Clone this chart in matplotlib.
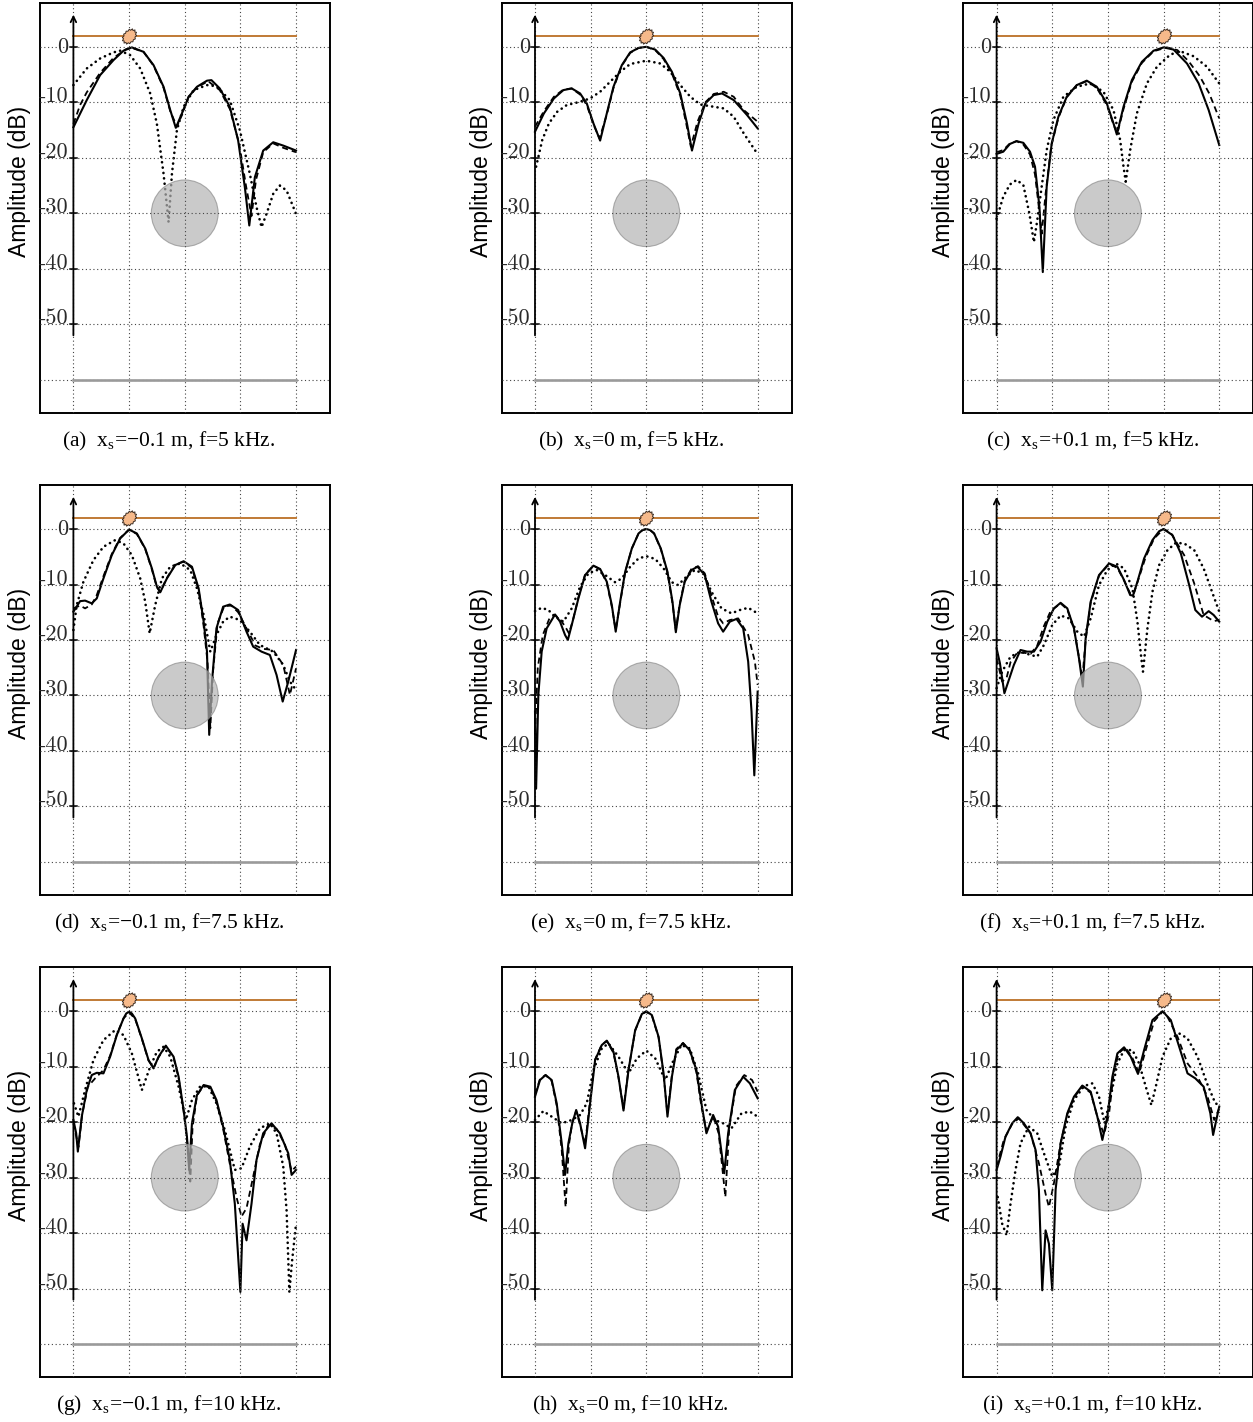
import numpy as np
import matplotlib
matplotlib.use("Agg")
from matplotlib import pyplot as plt
from matplotlib.patches import Ellipse
from matplotlib.path import Path

# Captions (x in cm, amplitude in dB)
captions = ["(a)  x$_\\mathrm{s}$=\u22120.1 m, f=5 kHz.", "(b)  x$_\\mathrm{s}$=0 m, f=5 kHz.",
            "(c)  x$_\\mathrm{s}$=+0.1 m, f=5 kHz.", "(d)  x$_\\mathrm{s}$=\u22120.1 m, f=7.5 kHz.",
            "(e)  x$_\\mathrm{s}$=0 m, f=7.5 kHz.", "(f)  x$_\\mathrm{s}$=+0.1 m, f=7.5 kHz.",
            "(g)  x$_\\mathrm{s}$=\u22120.1 m, f=10 kHz.", "(h)  x$_\\mathrm{s}$=0 m, f=10 kHz.",
            "(i)  x$_\\mathrm{s}$=+0.1 m, f=10 kHz."]
source_x = [-10, 0, 10, -10, 0, 10, -10, 0, 10]
y_ticks = [0, -10, -20, -30, -40, -50]
grid_x = [-20, -10, 0, 10, 20]
grid_y = [0, -10, -20, -30, -40, -50, -60]
source_level = 2
array_level = -60
circle_center = (0, -30)
circle_radius = 6

# ---- panel (a) ----
a_solid_x = [-20, -17.6, -15.2, -12.8, -11, -9.5, -7.4, -5.6, -3.8, -2.6, -1.6, -0.5, 0.7, 2.2, 4.0, 4.8, 6.3, 8.1, 9.6, 10.8, 11.6, 12.6, 14.1, 15.9, 17.7, 20]
a_solid_y = [-14.5, -9.6, -5.1, -2.4, -0.7, -0.1, -0.9, -3.3, -7.2, -11.4, -14.6, -12.0, -9.0, -7.2, -6.1, -6.0, -7.5, -10.8, -16.9, -25.3, -32.2, -23.5, -18.7, -17.2, -17.8, -18.7]
a_dash_x = [-20, -18.8, -17.6, -15.2, -12.8, -10.5, -9.5, -7.4, -5.6, -3.8, -2.6, -1.4, -0.3, 0.7, 2.2, 4.2, 6.3, 8.1, 9.8, 11.0, 12.0, 12.8, 14.1, 15.9, 17.7, 20]
a_dash_y = [-13.9, -10.5, -8.2, -4.7, -2.0, -0.4, -0.2, -0.9, -3.4, -7.4, -11.6, -14.4, -11.8, -9.0, -7.3, -6.2, -7.8, -11.2, -17.5, -25.0, -30.5, -24.0, -19.0, -17.4, -18.2, -19.0]
a_dot_x = [-20, -17.6, -15.2, -12.8, -11.6, -9.8, -8.0, -6.2, -5.0, -3.8, -2.9, -2.3, -1.4, -0.2, 1.6, 4.0, 5.7, 8.1, 9.9, 11.7, 12.9, 13.8, 14.7, 15.9, 17.1, 18.3, 20]
a_dot_y = [-6.9, -3.9, -2.1, -1.0, -0.7, -1.5, -3.9, -8.4, -13.9, -22.9, -31.6, -22.9, -15.0, -10.8, -7.8, -6.9, -7.1, -9.6, -15.0, -22.9, -28.9, -32.5, -30.1, -26.5, -25.0, -25.9, -30.1]

# ---- panel (b) ----
b_solid_x = [-20, -18.4, -16.6, -14.9, -13.4, -11.9, -10.7, -9.5, -8.3, -7.1, -5.9, -4.4, -2.9, -1.4, 0, 1.6, 3.1, 4.6, 6.1, 7.3, 8.2, 9.4, 10.6, 12.1, 13.6, 15.7, 18.1, 20]
b_solid_y = [-15.3, -12.0, -9.3, -7.8, -7.5, -8.4, -10.2, -13.8, -16.9, -12.0, -7.2, -3.3, -1.0, -0.2, 0.0, -0.5, -2.0, -4.5, -8.4, -13.8, -18.7, -13.8, -10.2, -8.7, -8.4, -9.6, -12.3, -14.7]
b_dash_x = [-20, -18.4, -16.6, -14.9, -13.4, -11.9, -10.7, -9.5, -8.4, -7.1, -5.9, -4.4, -2.9, -1.4, 0, 1.6, 3.1, 4.6, 6.1, 7.2, 8.0, 9.2, 10.6, 12.1, 13.9, 15.7, 17.5, 20]
b_dash_y = [-14.4, -11.6, -9.0, -7.7, -7.5, -8.6, -10.5, -14.0, -16.5, -12.2, -7.4, -3.4, -1.1, -0.2, 0.0, -0.6, -2.2, -4.8, -8.8, -14.0, -18.0, -13.5, -10.0, -8.5, -8.1, -9.0, -11.4, -13.5]
b_dot_x = [-19.8, -18.7, -17.5, -16.0, -14.3, -11.9, -10.1, -8.3, -6.5, -4.7, -2.9, 0, 2.5, 4.3, 6.1, 7.9, 9.7, 12.1, 13.9, 15.7, 17.5, 19.9]
b_dot_y = [-21.6, -16.8, -13.8, -11.7, -10.5, -9.9, -9.3, -8.1, -6.3, -4.5, -3.1, -2.5, -3.0, -4.5, -6.9, -9.0, -10.4, -10.8, -11.1, -12.6, -15.6, -19.2]

# ---- panel (c) ----
c_solid_x = [-20, -18.8, -17.6, -16.4, -15.2, -14.0, -13.1, -12.3, -11.7, -11.0, -10.1, -8.9, -7.4, -5.6, -3.8, -2.0, -0.2, 1.0, 1.6, 2.8, 4.3, 6.1, 8.2, 10.0, 11.8, 14.2, 16.3, 18.1, 20]
c_solid_y = [-19.3, -18.9, -17.5, -17.0, -17.3, -18.9, -21.6, -28.9, -40.6, -25.2, -17.4, -12.6, -9.0, -6.9, -6.1, -7.2, -10.2, -13.8, -15.8, -10.8, -6.0, -2.7, -0.7, -0.1, -0.5, -3.0, -6.6, -11.4, -17.7]
c_dash_x = [-20, -18.8, -17.6, -16.4, -15.2, -14.0, -13.1, -12.4, -11.9, -11.2, -10.2, -8.9, -7.4, -5.6, -3.8, -2.0, -0.2, 1.0, 1.7, 2.8, 4.3, 6.1, 8.2, 10.6, 12.5, 14.5, 16.5, 18.2, 20]
c_dash_y = [-19.0, -18.6, -17.4, -17.0, -17.6, -19.4, -23.0, -29.0, -33.7, -26.5, -18.0, -12.8, -9.1, -6.9, -6.2, -7.4, -10.5, -14.0, -15.6, -11.2, -6.3, -2.9, -0.8, -0.1, -0.6, -2.6, -5.3, -8.4, -12.9]
c_dot_x = [-20, -18.8, -17.6, -16.4, -15.2, -14.1, -13.3, -12.7, -11.9, -11.0, -9.8, -8.0, -5.6, -3.2, -0.8, 1.0, 2.2, 2.8, 3.2, 4.0, 5.2, 7.0, 8.8, 11.2, 13.0, 15.4, 17.8, 20]
c_dot_y = [-31.0, -27.0, -24.8, -24.0, -24.9, -30.1, -35.2, -31.3, -25.2, -18.6, -13.2, -9.0, -7.2, -6.6, -8.1, -11.4, -16.8, -21.6, -24.3, -18.6, -12.0, -6.6, -3.6, -1.4, -0.8, -1.7, -3.6, -6.6]

# ---- panel (d) ----
d_solid_x = [-20, -18.8, -17.9, -16.7, -15.8, -14.6, -13.1, -11.6, -10.0, -8.6, -7.1, -5.9, -5.0, -4.4, -3.2, -1.7, -0.2, 1.3, 2.5, 3.4, 4.0, 4.4, 4.9, 5.7, 6.9, 8.1, 9.6, 11.1, 12.3, 13.8, 15.3, 16.5, 17.6, 18.6, 20]
d_solid_y = [-14.9, -13.0, -12.9, -13.4, -12.5, -8.9, -4.7, -1.7, -0.1, -0.8, -3.5, -7.1, -10.4, -11.4, -8.9, -6.5, -5.8, -6.8, -10.7, -16.7, -22.1, -37.1, -27.5, -17.9, -14.0, -13.6, -14.6, -18.5, -21.2, -22.1, -22.7, -26.3, -31.1, -27.5, -21.8]
d_dash_x = [-20, -18.8, -17.9, -16.7, -15.8, -14.6, -13.1, -11.6, -10.0, -8.6, -7.1, -5.9, -5.0, -4.4, -3.2, -1.7, -0.2, 1.3, 2.5, 3.4, 4.1, 4.6, 5.1, 5.9, 7.1, 8.4, 9.6, 11.1, 12.7, 14.1, 15.9, 17.7, 18.9, 20]
d_dash_y = [-14.3, -13.8, -14.3, -13.6, -11.9, -8.5, -4.5, -1.6, -0.1, -0.9, -3.6, -7.3, -10.5, -11.3, -8.8, -6.4, -5.9, -7.0, -11.0, -17.5, -24.0, -35.9, -25.5, -17.0, -13.9, -13.8, -15.0, -17.9, -21.0, -21.6, -21.8, -24.5, -29.9, -25.1]
d_dot_x = [-20, -19.4, -18.2, -16.4, -14.6, -12.5, -11.0, -9.5, -8.0, -7.1, -6.3, -5.3, -4.1, -2.6, -0.8, 1.0, 2.2, 3.4, 4.6, 5.7, 6.9, 8.1, 9.9, 11.7, 13.5, 15.9, 17.7, 18.9, 20]
d_dot_y = [-18.2, -13.7, -9.5, -5.6, -3.2, -2.0, -2.6, -4.7, -8.9, -13.1, -18.8, -13.7, -8.9, -6.8, -6.2, -7.4, -10.7, -15.5, -22.1, -19.1, -16.7, -15.8, -16.4, -18.5, -20.9, -22.1, -24.5, -27.5, -29.0]

# ---- panel (e) ----
e_solid_x = [-20, -19.8, -19.4, -18.8, -17.9, -16.4, -15.5, -14.6, -14.1, -13.4, -12.2, -11.0, -9.5, -8.3, -7.1, -6.2, -5.5, -4.7, -3.8, -2.6, -1.4, -0.7, 0, 0.7, 1.4, 2.6, 3.8, 4.7, 5.3, 6.0, 6.9, 8.1, 9.2, 10.5, 11.7, 12.9, 13.8, 15.0, 16.2, 17.4, 18.3, 18.9, 19.4, 20]
e_solid_y = [-32.9, -46.8, -29.9, -22.1, -17.9, -15.4, -16.7, -19.1, -20.0, -17.3, -12.5, -8.3, -6.6, -7.2, -9.5, -13.7, -18.5, -13.1, -7.7, -3.5, -0.8, -0.2, 0.0, -0.2, -0.8, -3.5, -7.7, -13.1, -18.6, -13.7, -9.5, -7.4, -6.8, -8.3, -13.1, -17.0, -18.5, -16.7, -16.2, -17.9, -23.9, -32.9, -44.4, -29.3]
e_dash_x = [-20, -19.5, -18.6, -17.4, -16.4, -15.3, -14.4, -13.9, -13.2, -12.2, -11.0, -9.5, -8.3, -7.1, -6.2, -5.5, -4.7, -3.8, -2.6, -1.4, -0.7, 0, 0.7, 1.4, 2.6, 3.8, 4.7, 5.3, 6.0, 6.9, 8.1, 9.3, 10.5, 11.7, 12.9, 13.8, 15.0, 16.5, 18.3, 19.5, 20]
e_dash_y = [-37.0, -25.0, -19.1, -16.1, -15.5, -16.5, -17.9, -18.8, -16.5, -12.3, -8.2, -6.6, -7.3, -9.7, -14.0, -18.2, -13.3, -7.8, -3.5, -0.8, -0.2, 0.0, -0.2, -0.8, -3.6, -7.9, -13.4, -18.2, -13.5, -9.3, -7.2, -6.7, -8.0, -12.0, -15.8, -17.0, -16.4, -16.1, -19.1, -23.9, -28.1]
e_dot_x = [-20, -18.8, -17.6, -16.4, -14.9, -13.4, -11.9, -10.4, -8.9, -7.4, -5.6, -4.4, -2.9, -1.4, 0, 1.6, 3.1, 4.6, 5.7, 7.2, 8.7, 10.2, 11.7, 13.5, 15.3, 16.8, 18.3, 20]
e_dot_y = [-14.8, -14.2, -14.6, -15.8, -16.7, -14.3, -10.4, -8.0, -7.4, -8.3, -9.6, -8.9, -6.8, -5.3, -4.9, -5.4, -7.1, -9.6, -10.1, -8.6, -7.4, -8.0, -11.3, -14.3, -15.2, -14.6, -14.2, -15.2]

# ---- panel (f) ----
f_solid_x = [-20, -19.4, -18.6, -17.8, -16.9, -15.7, -14.5, -13.3, -12.1, -10.9, -9.7, -8.5, -7.3, -6.1, -5.2, -4.5, -4.0, -3.1, -1.6, 0.2, 1.7, 2.9, 4.0, 4.5, 5.3, 6.5, 8.0, 9.2, 10.0, 11.6, 13.1, 14.6, 15.7, 16.9, 18.1, 19.0, 20]
f_solid_y = [-21.5, -24.2, -29.6, -27.2, -24.5, -21.8, -22.1, -22.1, -20.3, -16.7, -14.3, -13.3, -14.3, -17.9, -23.3, -28.4, -19.7, -13.1, -8.3, -6.2, -6.8, -9.2, -11.9, -12.0, -9.5, -5.3, -2.0, -0.4, 0.0, -1.1, -4.4, -10.1, -14.6, -15.8, -14.8, -15.5, -16.7]
f_dash_x = [-20, -19.0, -18.2, -17.5, -16.3, -15.1, -13.9, -12.7, -11.5, -10.3, -8.5, -7.3, -6.1, -5.3, -4.6, -4.0, -3.1, -1.6, 0.2, 1.7, 2.9, 4.0, 4.6, 5.5, 6.8, 8.3, 10.0, 11.3, 13.7, 15.5, 17.2, 19.0, 20]
f_dash_y = [-23.3, -27.5, -26.8, -24.0, -22.3, -22.3, -22.5, -21.0, -17.5, -14.8, -13.4, -14.5, -18.0, -22.5, -27.0, -20.0, -13.3, -8.4, -6.3, -7.0, -9.3, -11.6, -11.8, -9.0, -5.0, -1.7, 0.0, -0.7, -4.7, -9.8, -15.5, -16.6, -16.4]
f_dot_x = [-20, -19.0, -17.5, -15.7, -13.9, -12.7, -11.5, -10.0, -8.5, -7.0, -5.5, -4.3, -3.1, -1.6, -0.1, 1.4, 2.9, 4.4, 5.3, 6.0, 6.3, 7.1, 8.0, 9.2, 10.7, 12.2, 13.7, 15.5, 17.2, 18.7, 20]
f_dot_y = [-28.7, -25.7, -23.0, -22.1, -22.7, -23.0, -20.9, -17.3, -15.6, -16.1, -18.5, -19.4, -16.1, -10.1, -7.4, -6.2, -7.1, -10.7, -16.7, -23.3, -25.7, -17.9, -11.3, -6.5, -3.8, -2.5, -2.6, -3.8, -7.1, -11.3, -14.9]

# ---- panel (g) ----
g_solid_x = [-20, -19.5, -19.2, -18.5, -17.6, -16.7, -15.8, -14.6, -13.4, -12.2, -11.0, -10.5, -10.0, -9.5, -8.9, -7.7, -6.5, -5.6, -4.7, -3.4, -2.0, -1.1, -0.2, 0.4, 0.8, 1.3, 2.2, 3.4, 4.6, 5.7, 6.9, 8.1, 9.0, 10.0, 10.4, 11.1, 12.0, 12.9, 14.1, 15.6, 17.1, 18.6, 19.2, 20]
g_solid_y = [-19.6, -22.0, -25.3, -19.0, -14.2, -11.5, -11.1, -11.2, -8.2, -4.3, -1.3, -0.4, -0.1, -0.4, -1.3, -4.9, -8.8, -10.3, -8.2, -6.2, -8.2, -11.8, -17.8, -22.6, -28.6, -20.2, -15.1, -13.3, -13.6, -16.0, -20.8, -26.8, -34.7, -50.6, -38.3, -41.3, -34.7, -26.8, -22.0, -20.2, -22.0, -25.6, -29.5, -28.6]
g_dash_x = [-20, -19.5, -19.1, -18.4, -17.4, -16.1, -14.6, -13.4, -12.2, -11.0, -10.0, -8.9, -7.7, -6.5, -5.6, -4.7, -3.4, -2.0, -1.1, -0.2, 0.5, 1.0, 1.4, 2.2, 3.4, 4.6, 5.7, 6.9, 8.1, 9.3, 10.2, 11.1, 12.3, 13.5, 15.0, 16.5, 18.0, 19.2, 20]
g_dash_y = [-20.2, -22.5, -24.5, -18.5, -13.6, -12.1, -10.6, -8.0, -4.2, -1.3, -0.2, -1.4, -5.0, -8.9, -10.2, -8.3, -6.3, -8.4, -12.0, -18.0, -24.0, -30.7, -21.0, -15.2, -13.4, -13.8, -16.3, -21.2, -27.5, -33.5, -37.0, -35.5, -29.8, -24.0, -20.5, -21.2, -24.0, -28.8, -28.0]
g_dot_x = [-19.9, -19.1, -17.9, -16.4, -14.6, -12.5, -11.0, -9.5, -7.7, -6.2, -5.0, -3.8, -2.6, -1.1, 0.2, 1.3, 2.8, 4.3, 5.7, 7.2, 9.0, 10.2, 11.7, 13.5, 15.3, 16.5, 17.7, 18.3, 18.8, 19.3, 20]
g_dot_y = [-16.6, -19.0, -14.2, -8.8, -5.2, -3.4, -4.3, -7.6, -14.2, -10.0, -7.3, -6.4, -8.2, -13.6, -19.6, -16.0, -13.5, -13.6, -16.6, -21.4, -28.6, -28.3, -24.4, -21.1, -20.2, -22.0, -28.0, -35.9, -50.6, -44.9, -38.3]

# ---- panel (h) ----
h_solid_x = [-20, -19.1, -18.1, -17.0, -16.1, -15.2, -14.6, -14.0, -13.3, -12.6, -11.9, -11.0, -10.1, -9.2, -8.0, -7.1, -5.9, -5.0, -4.1, -3.2, -2.0, -0.8, 0, 1.0, 2.2, 3.1, 3.8, 4.6, 5.4, 6.6, 7.8, 9.0, 9.9, 10.8, 12.0, 12.9, 14.0, 14.7, 15.9, 17.4, 18.6, 20]
h_solid_y = [-15.4, -12.4, -11.5, -12.4, -16.6, -23.8, -29.5, -23.8, -20.2, -17.8, -20.2, -24.7, -16.6, -8.8, -6.1, -5.3, -7.3, -11.8, -17.9, -10.6, -3.4, -0.5, 0.0, -0.7, -4.6, -11.2, -19.0, -11.8, -7.0, -5.8, -7.0, -10.6, -16.6, -22.0, -18.7, -20.8, -29.2, -22.0, -14.2, -11.8, -13.0, -15.7]
h_dash_x = [-20, -19.1, -18.1, -17.0, -16.1, -15.2, -14.5, -13.9, -13.3, -12.6, -11.9, -11.0, -10.1, -9.2, -8.0, -7.1, -5.9, -5.0, -4.1, -3.2, -2.0, -0.8, 0, 1.0, 2.2, 3.1, 3.8, 4.6, 5.4, 6.6, 7.8, 9.0, 9.9, 10.8, 12.0, 13.0, 14.2, 14.9, 16.1, 17.6, 19.0, 20]
h_dash_y = [-15.0, -12.2, -11.5, -12.6, -17.0, -25.0, -35.3, -24.0, -20.0, -18.0, -20.5, -24.0, -16.0, -8.7, -6.0, -5.4, -7.5, -12.0, -17.5, -10.5, -3.5, -0.5, -0.1, -0.8, -4.7, -11.5, -18.5, -11.5, -6.8, -5.7, -7.1, -11.0, -17.2, -21.5, -19.0, -22.0, -33.5, -21.0, -13.5, -11.5, -12.4, -14.5]
h_dot_x = [-20, -18.5, -17.0, -15.2, -13.4, -11.9, -10.7, -9.5, -8.0, -6.8, -5.0, -3.2, -1.7, 0, 1.6, 3.4, 4.9, 6.3, 7.8, 9.3, 10.8, 12.3, 13.8, 15.3, 17.1, 18.6, 20]
h_dot_y = [-19.6, -18.0, -19.0, -20.2, -19.6, -18.7, -16.6, -10.6, -6.7, -5.8, -8.2, -11.2, -8.5, -7.1, -8.5, -12.4, -8.8, -6.1, -6.7, -11.2, -17.8, -19.6, -20.2, -21.1, -18.4, -18.1, -19.0]

# ---- panel (i) ----
i_solid_x = [-20, -19.3, -18.4, -17.2, -16.2, -15.1, -13.9, -13.0, -12.4, -11.8, -11.2, -10.6, -10.0, -9.4, -8.5, -7.3, -6.1, -4.6, -3.1, -1.9, -1.0, -0.1, 0.8, 1.7, 2.9, 4.1, 5.4, 6.5, 8.0, 9.8, 11.3, 12.8, 14.3, 15.7, 17.2, 18.4, 18.9, 19.6, 20]
i_solid_y = [-28.6, -26.2, -22.6, -20.2, -19.1, -20.2, -22.0, -25.0, -32.2, -50.3, -39.5, -41.9, -50.3, -32.2, -23.8, -18.4, -15.4, -13.4, -14.5, -19.0, -23.2, -19.0, -11.8, -7.6, -6.5, -8.2, -11.3, -7.0, -1.6, 0.0, -1.6, -6.4, -11.2, -12.1, -13.6, -18.4, -22.3, -19.0, -17.2]
i_dash_x = [-20, -18.7, -17.2, -16.0, -13.9, -12.4, -11.2, -10.6, -9.7, -8.5, -7.3, -6.1, -4.6, -3.1, -1.9, -0.7, 0.2, 1.0, 1.9, 3.1, 4.3, 5.6, 6.8, 8.3, 9.8, 10.4, 12.5, 14.3, 16.1, 17.9, 19.1, 20]
i_dash_y = [-28.0, -23.2, -20.3, -19.3, -22.0, -27.4, -32.9, -35.3, -31.0, -23.8, -18.6, -15.6, -13.5, -14.7, -19.0, -22.2, -18.5, -11.5, -7.6, -6.5, -8.2, -11.2, -7.0, -1.8, -0.1, -0.4, -4.6, -9.4, -11.8, -15.4, -19.6, -17.5]
i_dot_x = [-19.8, -19.0, -18.2, -17.5, -16.6, -15.7, -14.2, -12.7, -11.5, -10.0, -8.8, -7.6, -6.1, -4.3, -2.8, -1.6, -0.6, 0.5, 1.7, 2.9, 4.4, 5.6, 6.8, 7.8, 8.6, 9.8, 11.3, 12.8, 14.3, 16.1, 17.8, 19.3, 20]
i_dot_y = [-33.5, -38.3, -40.4, -34.7, -28.6, -23.8, -20.8, -22.0, -25.6, -29.8, -28.0, -20.8, -16.0, -13.5, -13.0, -15.4, -20.2, -15.4, -9.4, -7.0, -7.0, -9.4, -13.6, -16.9, -13.6, -8.2, -4.9, -4.0, -4.9, -8.2, -13.0, -16.6, -16.9]

panels = [
    (a_solid_x, a_solid_y, a_dash_x, a_dash_y, a_dot_x, a_dot_y),
    (b_solid_x, b_solid_y, b_dash_x, b_dash_y, b_dot_x, b_dot_y),
    (c_solid_x, c_solid_y, c_dash_x, c_dash_y, c_dot_x, c_dot_y),
    (d_solid_x, d_solid_y, d_dash_x, d_dash_y, d_dot_x, d_dot_y),
    (e_solid_x, e_solid_y, e_dash_x, e_dash_y, e_dot_x, e_dot_y),
    (f_solid_x, f_solid_y, f_dash_x, f_dash_y, f_dot_x, f_dot_y),
    (g_solid_x, g_solid_y, g_dash_x, g_dash_y, g_dot_x, g_dot_y),
    (h_solid_x, h_solid_y, h_dash_x, h_dash_y, h_dot_x, h_dot_y),
    (i_solid_x, i_solid_y, i_dash_x, i_dash_y, i_dot_x, i_dot_y),
]

plt.rcParams['mathtext.fontset'] = 'custom'
plt.rcParams['mathtext.rm'] = 'Liberation Serif'

W, H = 1253, 1422
fig = plt.figure(figsize=(W / 100, H / 100), dpi=100)


# spiky blob used for the source position
def blob_marker():
    n = 28
    t = np.linspace(0, 2 * np.pi, n, endpoint=False)
    r = np.where(np.arange(n) % 2 == 0, 1.0, 0.82)
    ex, ey = r * np.cos(t), 0.72 * r * np.sin(t)
    ang = np.deg2rad(50)
    vx = ex * np.cos(ang) - ey * np.sin(ang)
    vy = ex * np.sin(ang) + ey * np.cos(ang)
    verts = np.column_stack([vx, vy])
    verts = np.vstack([verts, verts[:1]])
    return Path(verts, closed=True)


blob = blob_marker()
grid_kw = dict(color='#444444', lw=0.8, ls=(0, (1, 2.4)), zorder=5)

for k, (sx, sy, dx, dy, ox, oy) in enumerate(panels):
    r, c = divmod(k, 3)
    left = 40 + 461.6 * c
    top = 3 + 482.2 * r
    ax = fig.add_axes([left / W, 1 - (top + 410) / H, 290 / W, 410 / H])
    ax.set_xlim(-26.0, 26.1)
    ax.set_ylim(-66.0, 7.9)
    ax.set_xticks([])
    ax.set_yticks([])
    for sp in ax.spines.values():
        sp.set_linewidth(1.4)

    # dotted grid
    for gx in grid_x:
        ax.axvline(gx, **grid_kw)
    for gy in grid_y:
        ax.axhline(gy, **grid_kw)

    # the three curves
    ax.plot(ox, oy, color='black', lw=1.9, ls=(0, (0.05, 2.0)),
            dash_capstyle='round', solid_capstyle='round', zorder=3)
    ax.plot(dx, dy, color='black', lw=1.3, ls=(0, (3.4, 2.2)), zorder=3)
    ax.plot(sx, sy, color='black', lw=1.5, zorder=3)

    # scatterer
    ax.add_patch(Ellipse(circle_center, 2 * circle_radius, 2 * circle_radius,
                         facecolor='#b4b4b4', edgecolor='#8c8c8c', lw=0.8,
                         alpha=0.7, zorder=4))

    # array line and source line
    ax.plot([-20, 20], [array_level, array_level], color='#9a9a9a', lw=1.9, zorder=6)
    ax.plot([-20, 20], [source_level, source_level], color='#c07a35', lw=1.4, zorder=6)
    ax.plot([source_x[k]], [source_level], marker=blob, ms=11, mfc='#f6b98a',
            mec='#3a2a20', mew=0.7, zorder=7)

    # y axis with arrow
    ax.annotate('', xy=(-20, 5.8), xytext=(-20, -52),
                arrowprops=dict(arrowstyle='->', lw=1.3, color='black',
                                shrinkA=0, shrinkB=0), zorder=6)
    for v in y_ticks:
        ax.plot([-20.65, -19.35], [v, v], color='black', lw=1.1, zorder=6)
        ax.text(-20.9, v, str(v), ha='right', va='center' if v == 0 else 'baseline',
                fontsize=16, family='cmr10', color='#2a2a2a', zorder=7)

    fig.text((20 + 461.6 * c) / W, 1 - (181 + 482.2 * r) / H, 'Amplitude (dB)',
             rotation=90, ha='center', va='center', fontsize=16.5,
             family='Liberation Sans')
    fig.text((169 + 461.6 * c) / W, 1 - (441 + 482.2 * r) / H, captions[k],
             ha='center', va='center', fontsize=15.5, family='Liberation Serif')

fig.savefig('out.png', dpi=100)
